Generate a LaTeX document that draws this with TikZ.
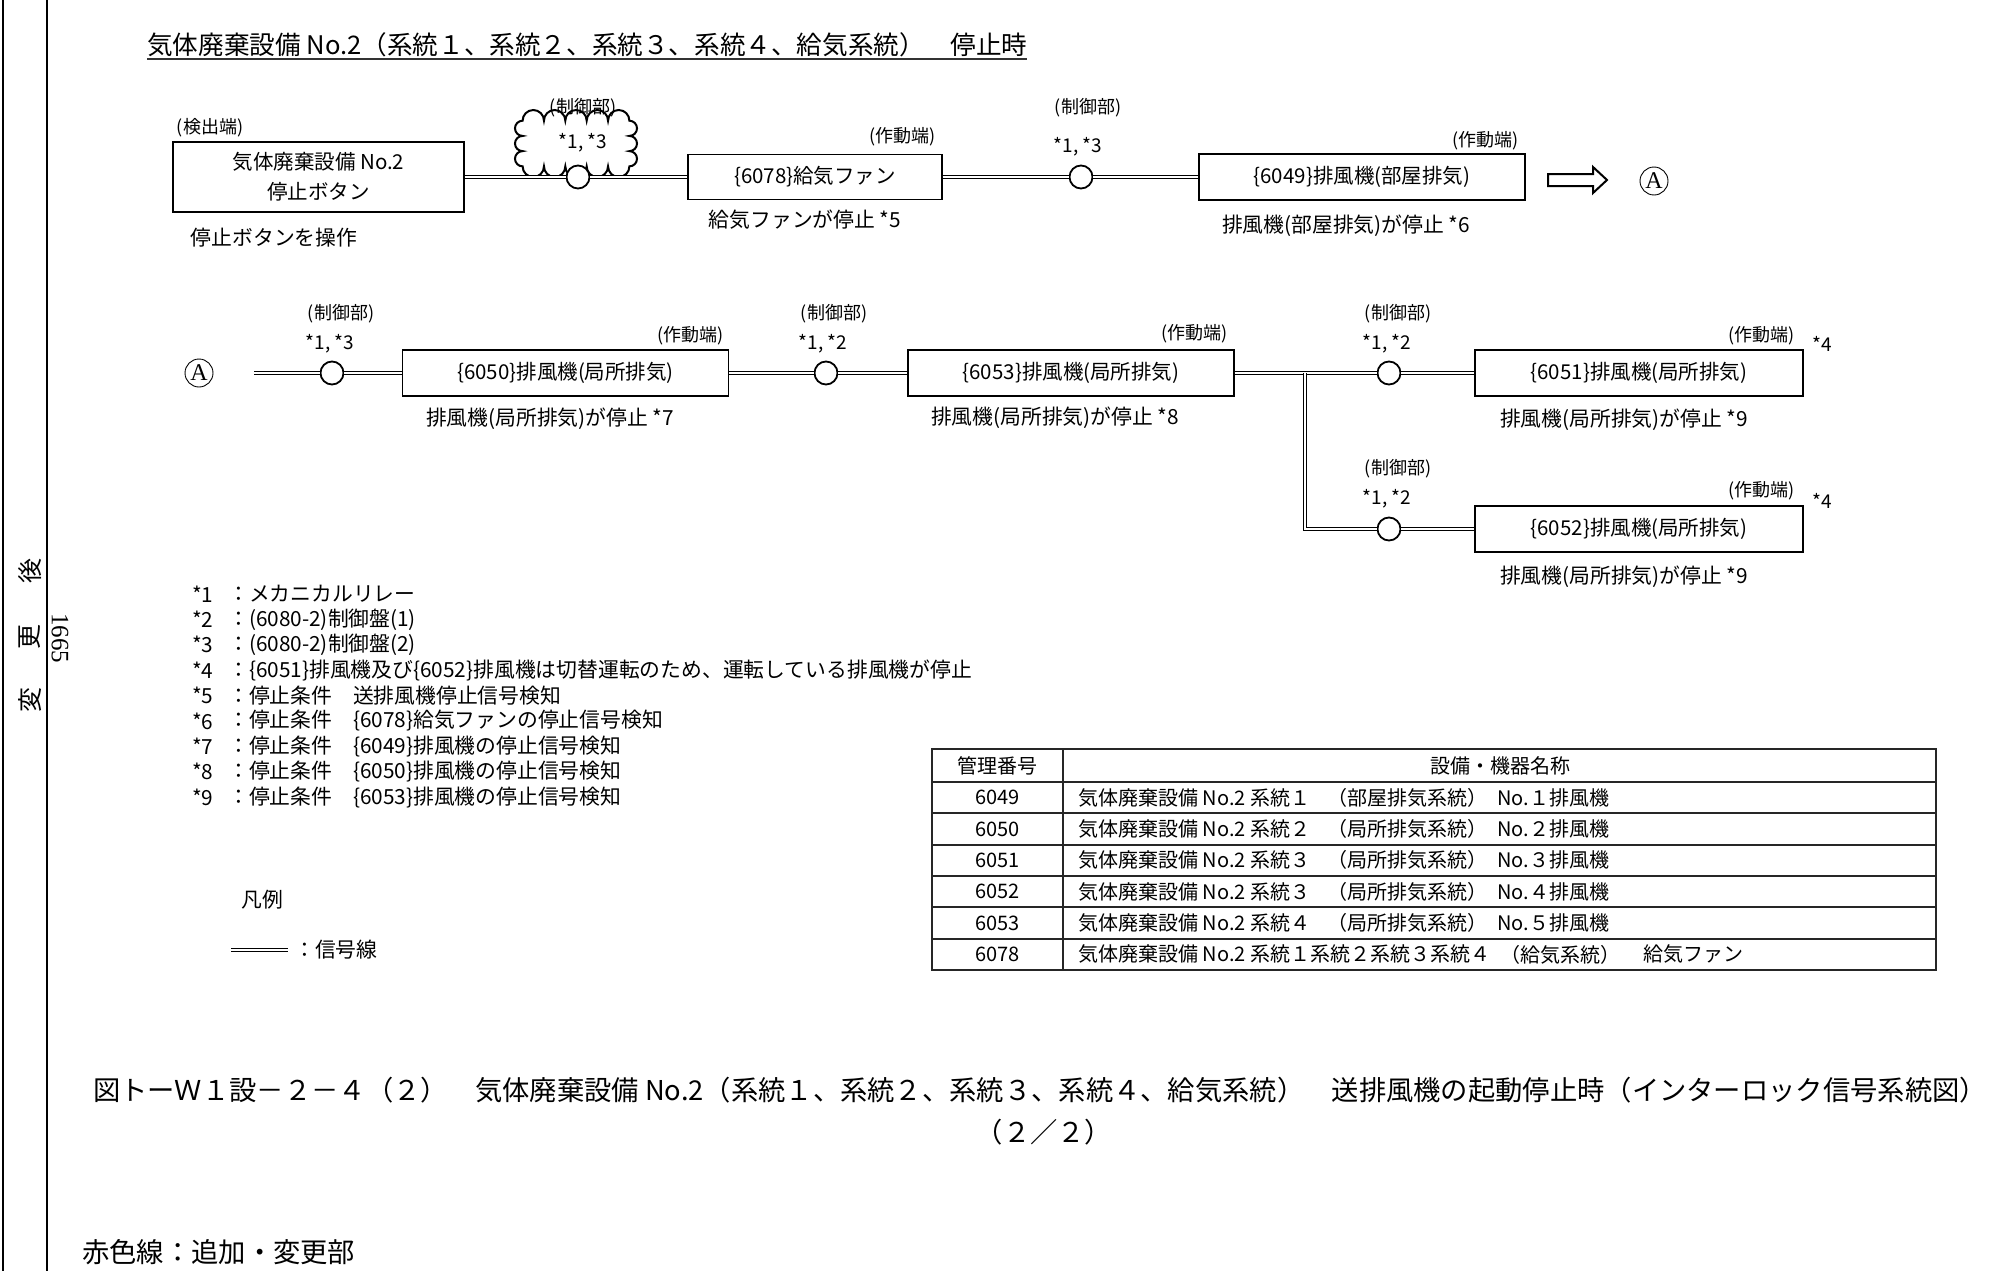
\documentclass[tikz,border=0pt]{standalone}
\usepackage{fontspec}
\setmainfont{Noto Sans CJK JP}
\newfontfamily\serif{Liberation Serif}
\begin{document}
\begin{tikzpicture}[x=1pt,y=-1pt,
  box/.style={draw, line width=1.3pt, inner sep=0pt, font=\fontsize{20.5}{30}\selectfont, align=center},
  sig/.style={double, line width=1.6pt, double distance=1.6pt},
  relay/.style={circle, draw, line width=1.8pt, fill=white, minimum size=23pt, inner sep=0pt},
  circA/.style={circle, draw, line width=0.9pt, minimum size=28pt, inner sep=0pt, font=\serif\fontsize{24}{24}\selectfont},
  small/.style={inner sep=0pt, font=\fontsize{18}{18}\selectfont},
  star/.style={inner sep=0pt, font=\fontsize{19}{19}\selectfont},
  body/.style={inner sep=0pt, font=\fontsize{20.8}{24}\selectfont},
  cell/.style={inner sep=0pt, font=\fontsize{20}{24}\selectfont},
  big/.style={inner sep=0pt, font=\fontsize{27.3}{30}\selectfont},
  frame/.style={line width=2.5pt},
  tline/.style={line width=1.2pt, draw=black!85}]
\useasboundingbox (0,0) rectangle (2010,1271);
\fill[white] (0,0) rectangle (2010,1271);

% page frame lines
\draw[frame] (3,0) -- (3,1271);
\draw[frame] (47,0) -- (47,1271);
\node[rotate=90, inner sep=0pt, font=\fontsize{25}{25}\selectfont] (v1) at (30,700) {変};
\node[rotate=90, inner sep=0pt, font=\fontsize{25}{25}\selectfont] (v2) at (30,637) {更};
\node[rotate=90, inner sep=0pt, font=\fontsize{25}{25}\selectfont] (v3) at (30,571) {後};
\node[rotate=-90, inner sep=0pt, font=\serif\fontsize{25}{25}\selectfont] (pg) at (60,638) {1665};

% title
\node[anchor=west, inner sep=0pt, font=\fontsize{25.6}{25}\selectfont] (title) at (147,45) {気体廃棄設備 No.2（系統１、系統２、系統３、系統４、給気系統）　停止時};
\draw[line width=1.6pt, draw=black!80] (title.west |- 0,59) -- (title.east |- 0,59);

% cloud (control part)
\draw[line width=2pt, fill=white] (522.6,120.7)
  arc[start angle=180,end angle=360,radius=10.68]
  arc[start angle=180,end angle=360,radius=10.68]
  arc[start angle=180,end angle=360,radius=10.68]
  arc[start angle=180,end angle=360,radius=10.68]
  arc[start angle=180,end angle=360,radius=10.68]
  arc[start angle=270,end angle=450,radius=7.61]
  arc[start angle=270,end angle=450,radius=7.61]
  arc[start angle=270,end angle=450,radius=7.61]
  arc[start angle=0,end angle=180,radius=10.68]
  arc[start angle=0,end angle=180,radius=10.68]
  arc[start angle=0,end angle=180,radius=10.68]
  arc[start angle=0,end angle=180,radius=10.68]
  arc[start angle=0,end angle=180,radius=10.68]
  arc[start angle=90,end angle=270,radius=7.61]
  arc[start angle=90,end angle=270,radius=7.61]
  arc[start angle=90,end angle=270,radius=7.61]
  -- cycle;

% row 1 nodes
\node[box, minimum width=291pt, minimum height=70pt] (b1) at (318.5,177) {気体廃棄設備 No.2\\停止ボタン};
\node[relay] (r1) at (578,177) {};
\node[box, minimum width=254pt, minimum height=45pt] (b6078) at (815,177) {\{6078\}給気ファン};
\node[relay] (r2) at (1081,177) {};
\node[box, minimum width=326pt, minimum height=46pt] (b6049) at (1362,177) {\{6049\}排風機(部屋排気)};
\node[circA] (A1) at (1654,181) {A};

\draw[sig] (b1) -- (r1);
\draw[sig] (r1) -- (b6078);
\draw[sig] (b6078) -- (r2);
\draw[sig] (r2) -- (b6049);
\draw[line width=2pt] (1548,174) -- (1593,174) -- (1593,167) -- (1607,180) -- (1593,193) -- (1593,186) -- (1548,186) -- cycle;

% row 1 labels
\node[small] (l1) at (210,128) {(検出端)};
\node[body] (l2) at (274,238) {停止ボタンを操作};
\node[small] (l3) at (583,108) {(制御部)};
\node[star] (l4) at (583,143) {*1, *3};
\node[small, anchor=east] (l5) at (936,137) {(作動端)};
\node[body] (l6) at (805,220) {給気ファンが停止 *5};
\node[small] (l7) at (1088,108) {(制御部)};
\node[star] (l8) at (1078,147) {*1, *3};
\node[small, anchor=east] (l9) at (1519,141) {(作動端)};
\node[body] (l10) at (1346,226) {排風機(部屋排気)が停止 *6};

% row 2 nodes
\node[circA] (A2) at (199,373) {A};
\coordinate (s2) at (254,373);
\node[relay] (r3) at (332,373) {};
\node[box, minimum width=326pt, minimum height=46pt] (b6050) at (565.5,373) {\{6050\}排風機(局所排気)};
\node[relay] (r4) at (826,373) {};
\node[box, minimum width=326pt, minimum height=46pt] (b6053) at (1071,373) {\{6053\}排風機(局所排気)};
\coordinate (j) at (1305,373);
\node[relay] (r5) at (1389,373) {};
\node[box, minimum width=328pt, minimum height=46pt] (b6051) at (1639,373) {\{6051\}排風機(局所排気)};
\node[relay] (r6) at (1389,529) {};
\node[box, minimum width=328pt, minimum height=46pt] (b6052) at (1639,529) {\{6052\}排風機(局所排気)};

\draw[sig] (s2) -- (r3);
\draw[sig] (r3) -- (b6050);
\draw[sig] (b6050) -- (r4);
\draw[sig] (r4) -- (b6053);
\draw[sig] (b6053) -- (r5);
\draw[sig] (r5) -- (b6051);
\draw[sig] (j) |- (r6);
\draw[sig] (r6) -- (b6052);

% row 2 labels
\node[small] (m1) at (341,314) {(制御部)};
\node[star] (m2) at (330,344) {*1, *3};
\node[small, anchor=east] (m3) at (724,336) {(作動端)};
\node[body] (m4) at (550,419) {排風機(局所排気)が停止 *7};
\node[small] (m5) at (834,314) {(制御部)};
\node[star] (m6) at (823,344) {*1, *2};
\node[small, anchor=east] (m7) at (1228,334) {(作動端)};
\node[body] (m8) at (1055,418) {排風機(局所排気)が停止 *8};
\node[small] (m9) at (1398,314) {(制御部)};
\node[star] (m10) at (1387,344) {*1, *2};
\node[small, anchor=east] (m11) at (1795,336) {(作動端)};
\node[star] (m12) at (1822,344) {*4};
\node[body] (m13) at (1624,420) {排風機(局所排気)が停止 *9};
\node[small] (m14) at (1398,469) {(制御部)};
\node[star] (m15) at (1387,499) {*1, *2};
\node[small, anchor=east] (m16) at (1795,491) {(作動端)};
\node[star] (m17) at (1822,501) {*4};
\node[body] (m18) at (1624,577) {排風機(局所排気)が停止 *9};

% notes
\node[body, anchor=west] (n1a) at (192,594) {*1};
\node[body, anchor=west] (n1) at (228,594) {：メカニカルリレー};
\node[body, anchor=west] (n2a) at (192,619.4) {*2};
\node[body, anchor=west] (n2) at (228,619.4) {：(6080-2)制御盤(1)};
\node[body, anchor=west] (n3a) at (192,644.8) {*3};
\node[body, anchor=west] (n3) at (228,644.8) {：(6080-2)制御盤(2)};
\node[body, anchor=west] (n4a) at (192,670.2) {*4};
\node[body, anchor=west] (n4) at (228,670.2) {：\{6051\}排風機及び\{6052\}排風機は切替運転のため、運転している排風機が停止};
\node[body, anchor=west] (n5a) at (192,695.6) {*5};
\node[body, anchor=west] (n5) at (228,695.6) {：停止条件　送排風機停止信号検知};
\node[body, anchor=west] (n6a) at (192,721) {*6};
\node[body, anchor=west] (n6) at (228,721) {：停止条件　\{6078\}給気ファンの停止信号検知};
\node[body, anchor=west] (n7a) at (192,746.4) {*7};
\node[body, anchor=west] (n7) at (228,746.4) {：停止条件　\{6049\}排風機の停止信号検知};
\node[body, anchor=west] (n8a) at (192,771.8) {*8};
\node[body, anchor=west] (n8) at (228,771.8) {：停止条件　\{6050\}排風機の停止信号検知};
\node[body, anchor=west] (n9a) at (192,797.2) {*9};
\node[body, anchor=west] (n9) at (228,797.2) {：停止条件　\{6053\}排風機の停止信号検知};

% legend
\node[body] (lg) at (262,900) {凡例};
\coordinate (lgA) at (231,950);
\coordinate (lgB) at (288,950);
\draw[sig] (lgA) -- (lgB);
\node[body, anchor=west] (lgt) at (294,950) {：信号線};

% table
\draw[tline] (932,749) rectangle (1936,970);
\draw[tline] (1063,749) -- (1063,970);
\draw[line width=2pt, draw=black!85] (932,782) -- (1936,782);
\foreach \yy in {813.3,844.7,876,907.3,938.7}{\draw[line width=1.7pt, draw=black!85] (932,\yy) -- (1936,\yy);}
\node[cell] (h1) at (997.5,765.5) {管理番号};
\node[cell] (h2) at (1500,765.5) {設備・機器名称};
\node[cell] (c1) at (997.5,797.6) {6049};
\node[cell, anchor=west] (d1a) at (1078,797.6) {気体廃棄設備 No.2 系統１};
\node[cell, anchor=west] (d1b) at (1327,797.6) {（部屋排気系統）};
\node[cell, anchor=west] (d1c) at (1497,797.6) {No.１排風機};
\node[cell] (c2) at (997.5,829) {6050};
\node[cell, anchor=west] (d2a) at (1078,829) {気体廃棄設備 No.2 系統２};
\node[cell, anchor=west] (d2b) at (1327,829) {（局所排気系統）};
\node[cell, anchor=west] (d2c) at (1497,829) {No.２排風機};
\node[cell] (c3) at (997.5,860.3) {6051};
\node[cell, anchor=west] (d3a) at (1078,860.3) {気体廃棄設備 No.2 系統３};
\node[cell, anchor=west] (d3b) at (1327,860.3) {（局所排気系統）};
\node[cell, anchor=west] (d3c) at (1497,860.3) {No.３排風機};
\node[cell] (c4) at (997.5,891.7) {6052};
\node[cell, anchor=west] (d4a) at (1078,891.7) {気体廃棄設備 No.2 系統３};
\node[cell, anchor=west] (d4b) at (1327,891.7) {（局所排気系統）};
\node[cell, anchor=west] (d4c) at (1497,891.7) {No.４排風機};
\node[cell] (c5) at (997.5,923) {6053};
\node[cell, anchor=west] (d5a) at (1078,923) {気体廃棄設備 No.2 系統４};
\node[cell, anchor=west] (d5b) at (1327,923) {（局所排気系統）};
\node[cell, anchor=west] (d5c) at (1497,923) {No.５排風機};
\node[cell] (c6) at (997.5,954.4) {6078};
\node[cell, anchor=west] (d6a) at (1078,954.4) {気体廃棄設備 No.2 系統１系統２系統３系統４};
\node[cell, anchor=west] (d6b) at (1500,954.4) {（給気系統）};
\node[cell, anchor=west] (d6c) at (1643,954.4) {給気ファン};

% caption
\node[big] (cap) at (1040,1090) {図トーＷ１設－２－４（２）　気体廃棄設備 No.2（系統１、系統２、系統３、系統４、給気系統）　送排風機の起動停止時（インターロック信号系統図）};
\node[big] (cap2) at (1044,1132) {（２／２）};
\node[big, anchor=west] (red) at (82,1252) {赤色線：追加・変更部};
\end{tikzpicture}
\end{document}
